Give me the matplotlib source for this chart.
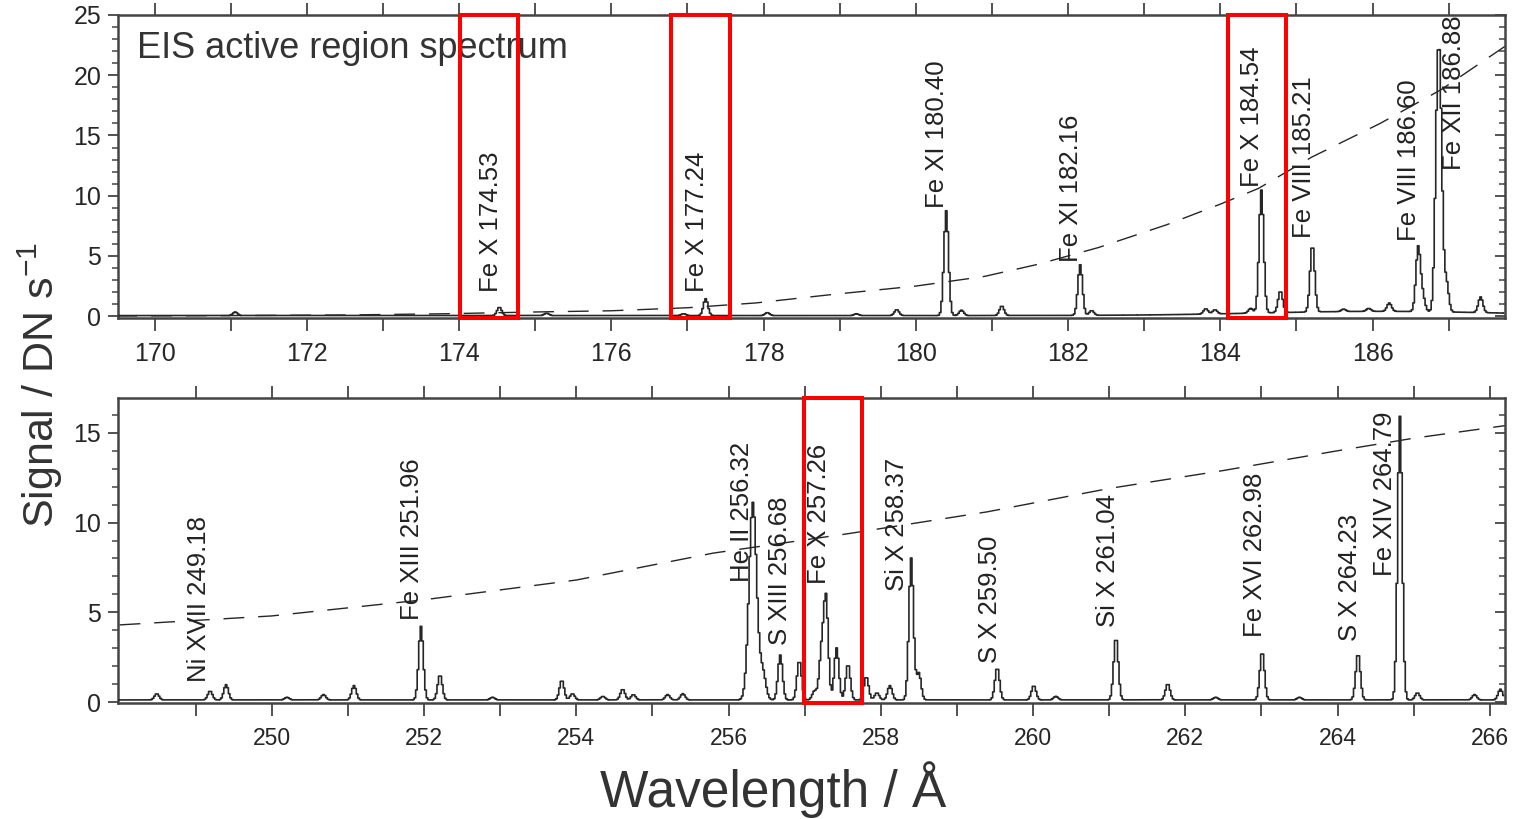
import numpy as np
import matplotlib
matplotlib.use("Agg")
import matplotlib.pyplot as plt
from matplotlib.patches import Rectangle
from matplotlib.ticker import MultipleLocator, FixedLocator

plt.rcParams["font.family"] = ["Liberation Sans", "DejaVu Sans"]
plt.rcParams["mathtext.fontset"] = "custom"
plt.rcParams["mathtext.rm"] = "Liberation Sans"
plt.rcParams["mathtext.it"] = "Liberation Sans:italic"
plt.rcParams["mathtext.bf"] = "Liberation Sans:bold"

INK = "#262626"
RED = "#ff0000"

# short-wavelength band: line centres (A), peak heights (DN/s), widths (A)
sw_centre = [171.06, 174.53, 175.15, 176.95, 177.24, 178.05, 179.22, 179.75,
             180.40, 180.60, 181.13, 182.16, 182.31, 183.81, 183.93, 184.40,
             184.54, 184.79, 185.21, 185.62, 185.95, 186.22, 186.60, 186.66,
             186.85, 186.89, 186.97, 187.42, 186.10]
sw_height = [0.30, 0.70, 0.20, 0.15, 1.40, 0.25, 0.15, 0.50,
             8.70, 0.45, 0.80, 4.20, 0.40, 0.45, 0.35, 0.40,
             10.2, 1.80, 5.60, 0.20, 0.25, 0.70, 5.30, 1.20,
             14.0, 14.0, 2.50, 1.30, 0.35]
sw_width = [0.03] * 28 + [1.6]
sw_floor = 0.05

# long-wavelength band
lw_centre = [248.49, 249.19, 249.40, 250.20, 250.68, 251.08, 251.96, 252.21,
             252.90, 253.81, 253.95, 254.35, 254.61, 254.75, 255.20, 255.40,
             256.32, 256.45, 256.68, 256.93, 257.13, 257.22, 257.28, 257.42,
             257.57, 257.81, 257.95, 258.12, 258.40, 258.50, 259.53, 260.01,
             260.30, 261.09, 261.77, 262.40, 263.01, 263.50, 264.27, 264.82,
             265.05, 265.80, 266.14]
lw_height = [0.35, 0.50, 0.85, 0.15, 0.30, 0.80, 4.10, 1.40,
             0.15, 1.10, 0.35, 0.20, 0.60, 0.30, 0.30, 0.35,
             11.0, 1.50, 2.50, 2.20, 0.50, 2.50, 5.60, 2.90,
             2.00, 1.30, 0.40, 0.80, 7.90, 1.50, 1.80, 0.80,
             0.20, 3.50, 0.90, 0.15, 2.70, 0.15, 2.60, 15.8,
             0.40, 0.30, 0.60]
lw_width = [0.03] * 16 + [0.05, 0.04] + [0.03] * 25
lw_floor = 0.12

# effective-area style reference curves (dashed)
sw_curve_x = [169.5, 171.0, 172.5, 173.8, 175.0, 176.0, 177.0, 177.9, 178.9,
              180.0, 180.9, 181.6, 182.4, 183.3, 184.0, 184.5, 185.2, 186.1,
              186.9, 187.74]
sw_curve_y = [0.02, 0.05, 0.10, 0.20, 0.35, 0.45, 0.70, 1.10, 1.80,
              2.50, 3.30, 4.30, 5.70, 7.60, 9.30, 10.6, 13.2, 16.0,
              18.8, 22.4]
lw_curve_x = [248.0, 250.0, 252.0, 254.0, 255.8, 257.6, 259.4, 261.0, 262.5,
              264.0, 265.0, 266.2]
lw_curve_y = [4.3, 4.8, 5.7, 6.8, 8.3, 9.4, 10.6, 11.9, 12.9, 14.0, 14.7, 15.4]

# line identifications: text, x of label, base height of label
sw_labels = [("Fe X 174.53", 174.42, 2.0), ("Fe X 177.24", 177.12, 2.0),
             ("Fe XI 180.40", 180.28, 9.0), ("Fe XI 182.16", 182.04, 4.5),
             ("Fe X 184.54", 184.42, 10.7), ("Fe VIII 185.21", 185.10, 6.5),
             ("Fe VIII 186.60", 186.48, 6.2), ("Fe XII 186.88", 187.07, 12.1)]
lw_labels = [("Ni XVII 249.18", 249.05, 1.1), ("Fe XIII 251.96", 251.84, 4.6),
             ("He II 256.32", 256.18, 6.7), ("S XIII 256.68", 256.68, 3.2),
             ("Fe X 257.26", 257.19, 6.6), ("Si X 258.37", 258.21, 6.2),
             ("S X 259.50", 259.43, 2.2), ("Si X 261.04", 260.99, 4.2),
             ("Fe XVI 262.98", 262.92, 3.6), ("S X 264.23", 264.17, 3.4),
             ("Fe XIV 264.79", 264.63, 7.0)]

# wavelength windows highlighted in red
sw_boxes = [(174.01, 174.77), (176.79, 177.56), (184.10, 184.86)]
lw_boxes = [(256.99, 257.75)]

SW_XLIM, SW_YLIM = (169.52, 187.74), (-0.15, 25)
LW_XLIM, LW_YLIM = (247.98, 266.2), (-0.05, 16.94)
SW_TICKS = list(range(170, 188, 2))
LW_TICKS = list(range(250, 267, 2))


def spectrum(lo, hi, centres, heights, widths, floor):
    wl = np.arange(lo, hi, 0.02)
    sig = np.full_like(wl, floor)
    for c, h, w in zip(centres, heights, widths):
        sig += h * np.exp(-0.5 * ((wl - c) / w) ** 2)
    return wl, sig


def style(ax, xlim, ylim, majors, xlabsize):
    ax.set_xlim(*xlim)
    ax.set_ylim(*ylim)
    ax.xaxis.set_major_locator(FixedLocator(majors))
    ax.xaxis.set_minor_locator(FixedLocator([m - 1 for m in majors] +
                                            [majors[-1] + 1]))
    ax.yaxis.set_major_locator(MultipleLocator(5))
    ax.yaxis.set_minor_locator(MultipleLocator(1))
    ax.tick_params(axis="x", which="both", direction="out", length=9,
                   width=1.3, top=True, colors="#444444", pad=8,
                   labelsize=xlabsize, labelcolor=INK)
    ax.tick_params(axis="y", which="major", direction="out", length=7,
                   width=1.3, colors="#444444", pad=5, labelsize=18,
                   labelcolor=INK)
    ax.tick_params(axis="y", which="minor", direction="out", length=4,
                   width=1.1, colors="#444444")
    for s in ax.spines.values():
        s.set_color("#444444")
        s.set_linewidth(1.8)
    right = ax.secondary_yaxis("right")
    right.yaxis.set_major_locator(MultipleLocator(5))
    right.yaxis.set_minor_locator(MultipleLocator(1))
    right.tick_params(which="major", direction="in", length=7, width=1.3,
                      colors="#444444", labelright=False)
    right.tick_params(which="minor", direction="in", length=4, width=1.1,
                      colors="#444444")
    right.spines["right"].set_visible(False)


def panel(ax, wl, sig, cx, cy, labels, boxes, ylim):
    ax.plot(wl, sig, color=INK, lw=1.2, drawstyle="steps-mid", zorder=3)
    ax.plot(cx, cy, color=INK, lw=1.0, ls=(0, (15, 10)), zorder=2)
    for text, x, y in labels:
        ax.text(x, y, text, rotation=90, ha="center", va="bottom",
                fontsize=18.5, color="#222222", zorder=4)
    for x0, x1 in boxes:
        ax.add_patch(Rectangle((x0, ylim[0]), x1 - x0, ylim[1] - ylim[0],
                               fill=False, ec=RED, lw=2.9, clip_on=False,
                               zorder=5))


fig = plt.figure(figsize=(15.24, 8.19), dpi=100)
ax1 = fig.add_axes([118 / 1524, 1 - 318 / 819, 1387 / 1524, 303 / 819])
ax2 = fig.add_axes([118 / 1524, 1 - 703 / 819, 1387 / 1524, 305 / 819])

wl, sig = spectrum(*SW_XLIM, sw_centre, sw_height, sw_width, sw_floor)
panel(ax1, wl, sig, sw_curve_x, sw_curve_y, sw_labels, sw_boxes, SW_YLIM)
style(ax1, SW_XLIM, SW_YLIM, SW_TICKS, 18)
ax1.text(0.0137, 0.89, "EIS active region spectrum", transform=ax1.transAxes,
         fontsize=26, color="#333333", va="center", ha="left")

wl, sig = spectrum(*LW_XLIM, lw_centre, lw_height, lw_width, lw_floor)
panel(ax2, wl, sig, lw_curve_x, lw_curve_y, lw_labels, lw_boxes, LW_YLIM)
style(ax2, LW_XLIM, LW_YLIM, LW_TICKS, 16.5)

fig.text(40 / 1524, 1 - 385 / 819, "Signal / DN s$^{-1}$", rotation=90,
         ha="center", va="center", fontsize=31, color="#333333")
fig.text(773 / 1524, 1 - 790 / 819, "Wavelength / Å", ha="center",
         va="center", fontsize=37, color="#333333")

fig.savefig("out.png", dpi=100)
